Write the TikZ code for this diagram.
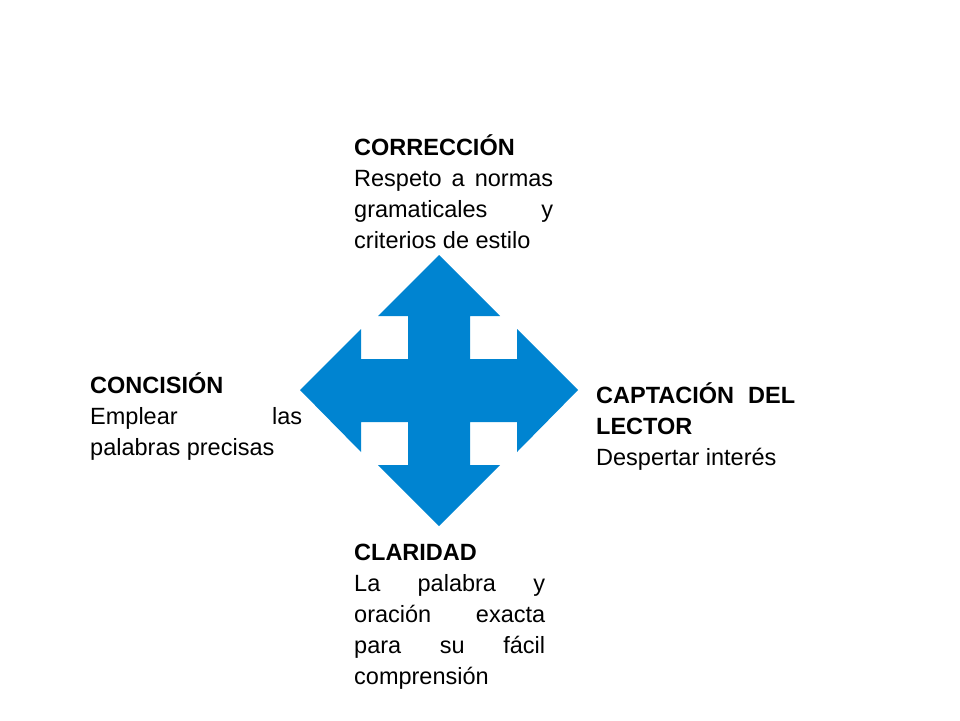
\documentclass[tikz,border=0pt]{standalone}
\usepackage{fontspec}
\setmainfont{Liberation Sans}
\definecolor{crossblue}{RGB}{0,132,209}
\hyphenpenalty=10000
\exhyphenpenalty=10000
\tikzset{
  label text/.style={anchor=base west, inner sep=0pt, align=justify, font=\fontsize{23.5}{31}\selectfont},
}
\begin{document}
\begin{tikzpicture}[x=1pt,y=-1pt]
\useasboundingbox (0,0) rectangle (960,720);
% cross of four arrows
\fill[crossblue] (439,255) -- (500,316) -- (470,316) -- (470,359) -- (517,359) -- (517,329) -- (578,390)
  -- (517,452) -- (517,422) -- (470,422) -- (470,465) -- (500,465) -- (439,526) -- (378,465)
  -- (408,465) -- (408,422) -- (361,422) -- (361,452) -- (300,390) -- (361,329) -- (361,359)
  -- (408,359) -- (408,316) -- (378,316) -- cycle;
\node[label text, text width=199pt] (T) at (354,155) {\textbf{CORRECCIÓN}\\ Respeto a normas gramaticales y criterios de estilo};
\node[label text, text width=212pt] (L) at (90,393) {\textbf{CONCISIÓN}\\ Emplear las palabras precisas};
\node[label text, text width=199pt] (R) at (596,403) {\textbf{CAPTACIÓN DEL LECTOR}\\ Despertar interés};
\node[label text, text width=191pt] (B) at (354,560) {\textbf{CLARIDAD}\\ La palabra y oración exacta para su fácil comprensión};
\end{tikzpicture}
\end{document}
